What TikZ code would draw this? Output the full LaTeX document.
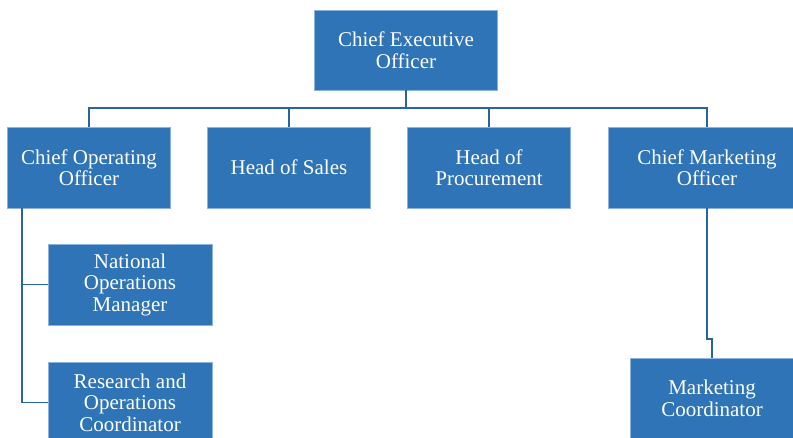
\documentclass[tikz,border=0pt]{standalone}
\usepackage{fontspec}
\setmainfont{Liberation Serif}
\definecolor{boxblue}{RGB}{46,116,182}
\definecolor{boxedge}{RGB}{140,178,222}
\definecolor{linkblue}{RGB}{40,100,165}
\begin{document}
\begin{tikzpicture}[x=1pt,y=-1pt,
  orgbox/.style={rectangle, fill=boxblue, draw=boxedge, line width=0.6pt,
    minimum width=163pt, minimum height=81pt, inner sep=0pt, align=center,
    text=white, font=\fontsize{21}{21.5}\selectfont},
  conn/.style={draw=linkblue, line width=1.8pt}]
\useasboundingbox (0,0) rectangle (793,438);
\clip (0,0) rectangle (793,438);
\fill[white] (0,0) rectangle (793,438);
% nodes
\node[orgbox, minimum width=183pt, minimum height=80pt] (ceo) at (406,50) {Chief Executive\\Officer};
\node[orgbox] (coo) at (89,167.5) {Chief Operating\\Officer};
\node[orgbox] (hos) at (289,167.5) {Head of Sales};
\node[orgbox] (hop) at (489,167.5) {Head of\\Procurement};
\node[orgbox, minimum width=198pt] (cmo) at (707,167.5) {Chief Marketing\\Officer};
\node[orgbox, minimum width=164pt] (nom) at (130,284.5) {National\\Operations\\Manager};
\node[orgbox, minimum width=164pt] (roc) at (130,402.5) {Research and\\Operations\\Coordinator};
\node[orgbox, minimum width=164pt] (mc) at (712,398.5) {Marketing\\Coordinator};
% connectors
\coordinate (bus) at (406,108);
\coordinate (cooline) at (22,208);
\coordinate (jog) at (707,339);
\draw[conn] (ceo.south) -- (bus);
\draw[conn] (coo.north) |- (bus) -| (cmo.north);
\draw[conn] (hos.north) -- (hos.north |- bus);
\draw[conn] (hop.north) -- (hop.north |- bus);
\draw[conn] (cooline) |- (nom.west);
\draw[conn] (cooline) |- (roc.west);
\draw[conn] (cmo.south) -- (jog) -| (mc.north);
\end{tikzpicture}
\end{document}
